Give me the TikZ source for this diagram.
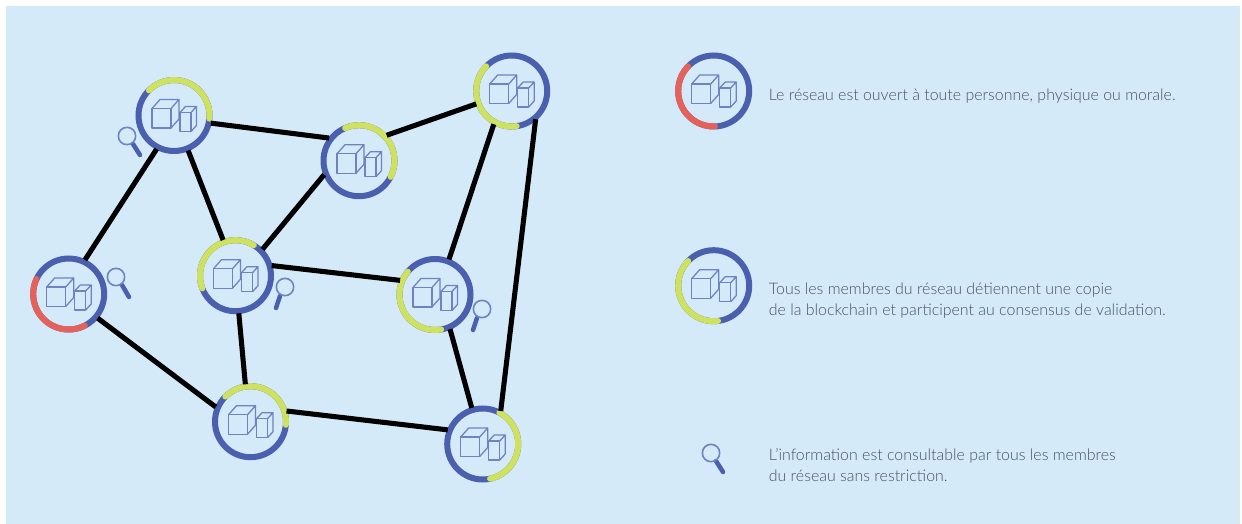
\documentclass[tikz,border=0pt]{standalone}
\usepackage{fontspec}
\setmainfont{Lato}[UprightFont=* Light]
\definecolor{bgblue}{HTML}{D4EAF8}
\definecolor{ringblue}{HTML}{4A5FAE}
\definecolor{iconblue}{HTML}{6F82C2}
\definecolor{ringgreen}{HTML}{CFE260}
\definecolor{ringred}{HTML}{E5615A}
\definecolor{txtgrey}{HTML}{4C505C}
\tikzset{
  x=0.75pt,y=-0.75pt,
  ring/.style={circle,draw=ringblue,line width=4.5pt,minimum size=53.25pt,inner sep=0pt,outer sep=0pt},
  link/.style={draw=black,line width=3.8pt,shorten >=1.7pt,shorten <=1.7pt},
  boxline/.style={draw=iconblue,line width=0.95pt,line join=round},
  caption/.style={anchor=west,align=left,text=txtgrey,font=\fontsize{11.95pt}{16.1pt}\selectfont,inner sep=0pt},
  lens/.style={draw=iconblue,line width=1.2pt},
  lenshandle/.style={draw=ringblue,line width=3.4pt,line cap=round},
}
% name, x, y, start angle, end angle, colour
\newcommand{\station}[6]{%
  \node[ring] (#1) at (#2,#3) {};
  \begin{scope}[shift={(#2,#3)}]
    \draw[#6,line width=4.5pt,line cap=round] ({35.5*cos(#4)},{-35.5*sin(#4)}) arc[start angle=-#4,end angle=-#5,radius=35.5];
    \draw[boxline] (-22,-7) rectangle (-3,12.5);
    \draw[boxline] (-22,-7) -- (-14,-16) -- (5,-16) -- (-3,-7) (5,-16) -- (5,3.5) -- (-3,12.5);
    \draw[boxline] (6,-3) rectangle (17,16);
    \draw[boxline] (6,-3) -- (11.5,-9) -- (22.5,-9) -- (17,-3) (22.5,-9) -- (22.5,10) -- (17,16);
  \end{scope}}
% name, x, y of lens centre, x, y of handle start, x, y of handle end
\newcommand{\loupe}[7]{%
  \draw[lenshandle] (#4,#5) -- (#6,#7);
  \node[circle,lens,minimum size=13pt,inner sep=0pt] (#1) at (#2,#3) {};}
\begin{document}
\begin{tikzpicture}
\useasboundingbox (0,0) rectangle (1242,524);
\fill[bgblue] (6,6) rectangle (1240,524);
\station{a}{174}{115.5}{135}{-5}{ringgreen}
\station{b}{359}{160.7}{113}{-27}{ringgreen}
\station{c}{511.7}{91}{136}{278}{ringgreen}
\station{d}{68.7}{294}{155}{297}{ringred}
\station{e}{235.5}{275.7}{59}{201}{ringgreen}
\station{f}{435}{294.5}{140}{280}{ringgreen}
\station{g}{250.5}{421.7}{135}{-5}{ringgreen}
\station{h}{482.7}{444}{62}{-78}{ringgreen}
\draw[link] (a.-12.5) -- (b.141);
\draw[link] (b.44) -- (c.200);
\draw[link] (a.243) -- (d.65);
\draw[link] (a.292) -- (e.109);
\draw[link] (b.200) -- (e.44);
\draw[link] (c.241) -- (f.68);
\draw[link] (c.313) -- (h.60);
\draw[link] (e.17) -- (f.157);
\draw[link] (e.275) -- (g.98);
\draw[link] (d.-40) -- (g.158);
\draw[link] (f.294) -- (h.107);
\draw[link] (g.18) -- (h.157);
\loupe{la}{127}{136}{133}{144}{140}{155}
\loupe{ld}{116}{277}{122}{285}{129}{297}
\loupe{le}{285}{287}{280}{296}{276}{308}
\loupe{lf}{482}{309}{477}{318}{473}{330}
\station{k1}{713.7}{91}{136}{272}{ringred}
\station{k2}{713.7}{285.7}{136}{277}{ringgreen}
\loupe{k3}{711}{453}{716}{461}{723}{472}
\node[caption] (t1) at (768.6,96) {Le réseau est ouvert à toute personne, physique ou morale.};
\node[caption] (t2) at (768.6,300.5) {Tous les membres du réseau détiennent une copie\\de la blockchain et participent au consensus de validation.};
\node[caption] (t3) at (768.6,465.2) {L’information est consultable par tous les membres\\du réseau sans restriction.};
\end{tikzpicture}
\end{document}
